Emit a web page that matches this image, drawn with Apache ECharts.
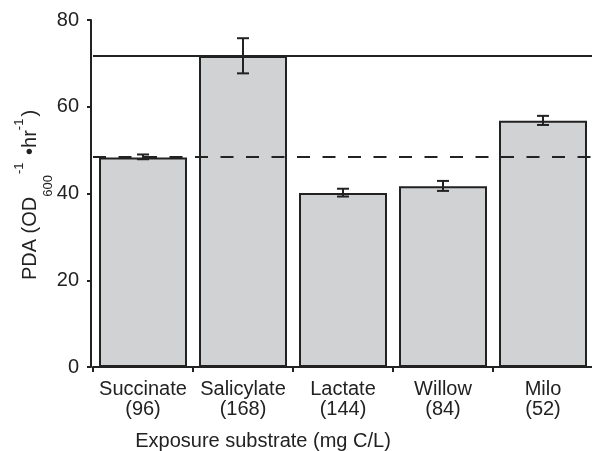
<!DOCTYPE html>
<html><head><meta charset="utf-8">
<script src="https://cdn.jsdelivr.net/npm/echarts@6/dist/echarts.min.js"></script>
<style>html,body{margin:0;padding:0;background:#fff}#c{width:592px;height:451px}</style>
</head><body><div id="c"></div>
<script>
const categories = ['Succinate\n(96)', 'Salicylate\n(168)', 'Lactate\n(144)', 'Willow\n(84)', 'Milo\n(52)'];
const meanValues = [48.3, 71.7, 40.1, 41.7, 56.8];
const errLow = [47.9, 67.7, 39.3, 40.6, 55.8];
const errHigh = [49.0, 75.8, 41.1, 42.9, 57.9];
const refSolid = 71.7;
const refDashed = 48.4;
const yMin = 0, yMax = 80, yStep = 20;
const xTitle = 'Exposure substrate (mg C/L)';
// y title pieces: text, role (main / sub / sup)
const yTitleParts = [['PDA (OD', 'main'], ['600', 'sub'], ['-1', 'sup'], [' \u2022hr', 'main'], ['-1', 'sup'], [')', 'main']];

const FONT = '"Liberation Sans", Arial, Helvetica, sans-serif';
const INK = '#222';

// build the rotated y-axis title with sub/superscripts
const mctx = document.createElement('canvas').getContext('2d');
function textW(t, s) { mctx.font = s + 'px ' + FONT; return mctx.measureText(t).width; }
const roleStyle = {main: {s: 20, base: 0, gap: 0}, sub: {s: 13, base: 16, gap: 1}, sup: {s: 13, base: -13, gap: 2}};
let totalW = 0;
const pieces = yTitleParts.map(([t, r]) => {
  const rs = roleStyle[r];
  const w = textW(t, rs.s);
  const p = {t, rs, x: totalW};
  totalW += w + rs.gap;
  return p;
});
const titleChildren = pieces.map(p => ({
  type: 'text',
  x: p.x - totalW / 2,
  y: p.rs.base - 0.35 * p.rs.s,
  style: {text: p.t, fontSize: p.rs.s, fontFamily: FONT, fill: INK, align: 'left', verticalAlign: 'middle'}
}));

const chart = echarts.init(document.getElementById('c'), null, {renderer: 'canvas'});
const errData = categories.map((c, i) => [i, errLow[i], errHigh[i]]);

chart.setOption({
  animation: false,
  backgroundColor: '#fff',
  grid: {left: 93, top: 20, width: 500, bottom: 84, containLabel: false, outerBoundsMode: 'none'},
  graphic: [{type: 'group', x: 37, y: 195, rotation: Math.PI / 2, silent: true, children: titleChildren}],
  xAxis: {
    type: 'category',
    data: categories,
    offset: 5,
    boundaryGap: true,
    axisLine: {lineStyle: {color: INK, width: 2}},
    axisTick: {show: true, length: 5, alignWithLabel: false, lineStyle: {color: INK, width: 2}},
    axisLabel: {color: INK, fontSize: 20, fontFamily: FONT, lineHeight: 20, margin: 7, interval: 0},
    name: xTitle,
    nameLocation: 'middle',
    nameGap: 59,
    nameTextStyle: {color: INK, fontSize: 20, fontFamily: FONT, lineHeight: 20, padding: [0, 160, 0, 0]}
  },
  yAxis: {
    type: 'value',
    min: yMin, max: yMax, interval: yStep,
    offset: 2,
    splitLine: {show: false},
    axisLine: {show: true, lineStyle: {color: INK, width: 2}},
    axisTick: {show: true, length: 4, lineStyle: {color: INK, width: 2}},
    axisLabel: {color: INK, fontSize: 20, fontFamily: FONT, margin: 12}
  },
  series: [
    {
      type: 'bar',
      data: meanValues,
      barWidth: 88,
      itemStyle: {color: '#d1d2d4', borderColor: INK, borderWidth: 2},
      z: 2,
      markLine: {
        silent: true,
        symbol: ['none', 'none'],
        label: {show: false},
        z: 5,
        data: [
          {yAxis: refSolid, lineStyle: {color: INK, width: 2, type: 'solid'}},
          {yAxis: refDashed, lineStyle: {color: INK, width: 2, type: [13, 12.5]}}
        ]
      }
    },
    {
      type: 'custom',
      data: errData,
      z: 10,
      renderItem: function (params, api) {
        const i = api.value(0);
        const lo = api.coord([i, api.value(1)]);
        const hi = api.coord([i, api.value(2)]);
        const hw = 6;
        const st = {stroke: INK, lineWidth: 2};
        return {
          type: 'group',
          children: [
            {type: 'line', shape: {x1: lo[0], y1: lo[1], x2: hi[0], y2: hi[1]}, style: st},
            {type: 'line', shape: {x1: lo[0] - hw, y1: lo[1], x2: lo[0] + hw, y2: lo[1]}, style: st},
            {type: 'line', shape: {x1: hi[0] - hw, y1: hi[1], x2: hi[0] + hw, y2: hi[1]}, style: st}
          ]
        };
      }
    }
  ]
});
</script></body></html>
